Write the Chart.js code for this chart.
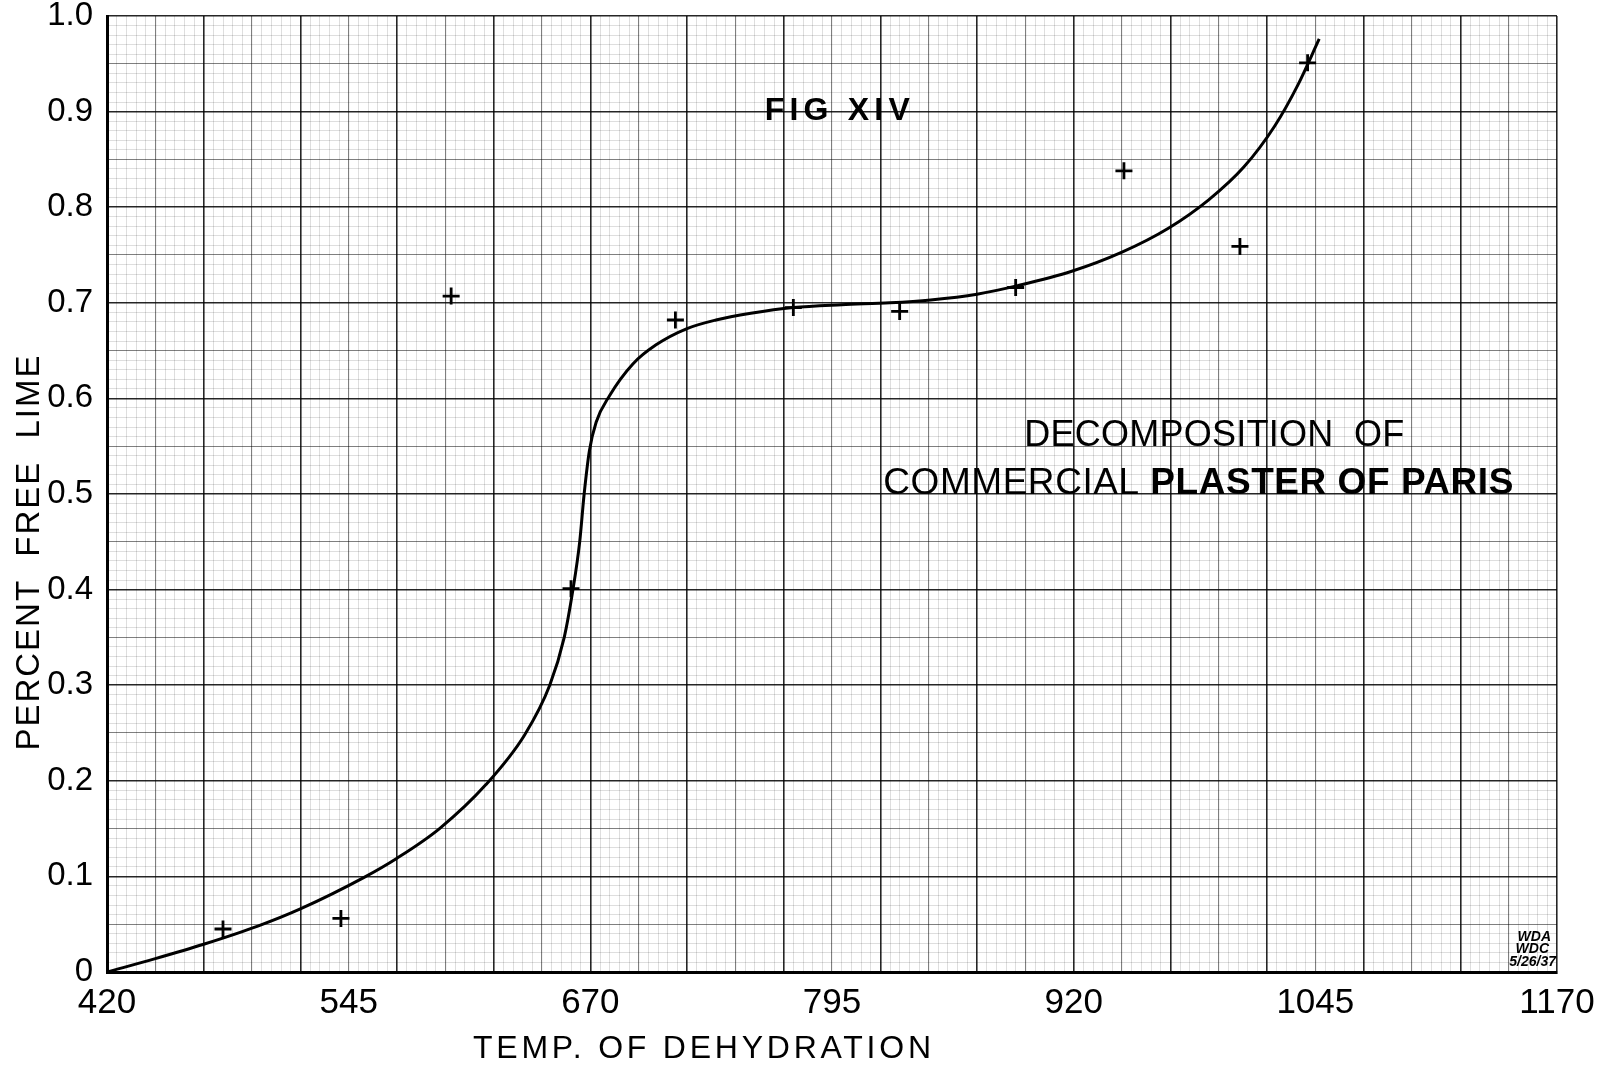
<!DOCTYPE html>
<html>
<head>
<meta charset="utf-8">
<title>Fig XIV - Decomposition of commercial plaster of Paris</title>
<script src="https://cdn.jsdelivr.net/npm/chart.js@4.4.1/dist/chart.umd.min.js"></script>
<style>
  html, body { margin: 0; padding: 0; background: #fff; }
  #chart { display: block; }
</style>
</head>
<body>
<canvas id="chart" width="1598" height="1067"></canvas>
<script>
// plotted observations (the "+" marks)
const tempPoints = [420, 480, 541, 598, 660, 714, 775, 830, 890, 946, 1006, 1041];
const limePoints = [0, 0.045, 0.056, 0.707, 0.401, 0.682, 0.695, 0.691, 0.716, 0.838, 0.759, 0.951];

// the hand drawn curve
const curveTemp = [420, 445, 470, 498, 520, 553, 570, 592, 616, 636, 649, 656.5, 661, 664.5, 666.8, 669.5, 673,
  680, 692, 704, 720, 735, 753, 775, 800, 825, 846, 870, 891, 919, 945, 969, 990, 1008, 1024, 1036, 1047];
const curveLime = [0, 0.014, 0.029, 0.048, 0.066, 0.099, 0.119, 0.150, 0.196, 0.248, 0.300, 0.350, 0.400, 0.450, 0.500, 0.545, 0.575,
  0.603, 0.636, 0.656, 0.673, 0.682, 0.689, 0.695, 0.698, 0.700, 0.703, 0.709, 0.718, 0.733, 0.753, 0.778, 0.808, 0.842, 0.885, 0.928, 0.976];

const xTickLabels = [420, 545, 670, 795, 920, 1045, 1170];
const yTickLabels = [0, 0.1, 0.2, 0.3, 0.4, 0.5, 0.6, 0.7, 0.8, 0.9, 1.0];

const FONT = '"Liberation Sans", Arial, sans-serif';

// grid weight: heavy every 50 deg / 0.1, medium every 25 deg / 0.05, faint otherwise
function gridStyle(k, major, mid) {
  if (k % major === 0) return 'heavy';
  if (k % mid === 0) return 'mid';
  return 'faint';
}
const gridColors = { heavy: 'rgba(0,0,0,0.85)', mid: 'rgba(0,0,0,0.5)', faint: 'rgba(0,0,0,0.13)' };
const gridWidths = { heavy: 1.6, mid: 1.1, faint: 1 };

function xKind(ctx) { return gridStyle(Math.round(ctx.tick.value - 420), 50, 25); }
function yKind(ctx) { return gridStyle(Math.round(ctx.tick.value * 100), 10, 5); }

// texts written on the sheet, stretched to the lettered width
function drawRuns(ctx, runs, cx, cy, width, angle) {
  ctx.save();
  let plain = 0, chars = 0;
  runs.forEach(r => {
    ctx.font = r.font;
    ctx.letterSpacing = '0px';
    plain += ctx.measureText(r.text).width;
    chars += r.text.length;
  });
  const gap = Math.max(0, (width - plain) / (chars - 1));
  ctx.translate(cx, cy);
  if (angle) ctx.rotate(angle);
  ctx.textAlign = 'left';
  ctx.textBaseline = 'middle';
  ctx.fillStyle = '#000';
  let x = -width / 2;
  runs.forEach(r => {
    ctx.font = r.font;
    ctx.letterSpacing = gap + 'px';
    ctx.fillText(r.text, x, 0);
    x += ctx.measureText(r.text).width;
  });
  ctx.restore();
}

const notes = [
  { runs: [{ text: 'FIG XIV', font: 'bold 32px ' + FONT }], x: 797.7, y: 0.9, width: 145 },
  { runs: [{ text: 'DECOMPOSITION  OF', font: '36px ' + FONT }], x: 992.7, y: 0.5605, width: 380 },
  { runs: [{ text: 'COMMERCIAL ', font: '37px ' + FONT }, { text: 'PLASTER OF PARIS', font: 'bold 37px ' + FONT }],
    x: 984.5, y: 0.511, width: 630 }
];

const sheetText = {
  id: 'sheetText',
  beforeDraw(chart) {
    const ctx = chart.ctx;
    ctx.save();
    ctx.fillStyle = '#fff';
    ctx.fillRect(0, 0, chart.width, chart.height);
    ctx.restore();
  },
  afterDraw(chart) {
    const ctx = chart.ctx;
    const xs = chart.scales.x, ys = chart.scales.y;
    const area = chart.chartArea;
    notes.forEach(n => drawRuns(ctx, n.runs, xs.getPixelForValue(n.x), ys.getPixelForValue(n.y), n.width));

    // axis titles
    drawRuns(ctx, [{ text: 'TEMP. OF DEHYDRATION', font: '32px ' + FONT }], area.left + 595, area.bottom + 77, 458);
    drawRuns(ctx, [{ text: 'PERCENT  FREE  LIME', font: '33px ' + FONT }], 30, area.top + 537, 395, -Math.PI / 2);

    // draftsman's initials
    ctx.save();
    ctx.fillStyle = '#000';
    ctx.textAlign = 'right';
    ctx.textBaseline = 'middle';
    ctx.font = 'italic bold 14px ' + FONT;
    ctx.fillText('WDA', area.right - 6, area.bottom - 35);
    ctx.fillText('WDC', area.right - 8, area.bottom - 23);
    ctx.fillText('5/26/37', area.right - 1, area.bottom - 10);
    ctx.restore();
  }
};

new Chart(document.getElementById('chart'), {
  type: 'scatter',
  data: {
    datasets: [
      {
        label: 'Observed',
        data: tempPoints.map((t, i) => ({ x: t, y: limePoints[i] })),
        pointStyle: 'cross',
        pointRadius: 8.5,
        pointBorderWidth: 2.8,
        borderColor: '#000',
        backgroundColor: '#000',
        showLine: false,
        order: 0
      },
      {
        label: 'Curve',
        data: curveTemp.map((t, i) => ({ x: t, y: curveLime[i] })),
        showLine: true,
        borderColor: '#000',
        borderWidth: 3,
        pointRadius: 0,
        cubicInterpolationMode: 'monotone',
        fill: false,
        order: 1
      }
    ]
  },
  options: {
    responsive: false,
    devicePixelRatio: 1,
    animation: false,
    layout: { padding: { top: 16, right: 41, left: 0, bottom: 0 } },
    plugins: { legend: { display: false }, tooltip: { enabled: false } },
    scales: {
      x: {
        type: 'linear',
        min: 420,
        max: 1170,
        afterFit(scale) { scale.height = 95; scale.paddingLeft = 0; scale.paddingRight = 0; },
        ticks: {
          stepSize: 5,
          autoSkip: false,
          maxRotation: 0,
          minRotation: 0,
          padding: 10,
          color: '#000',
          font: { family: FONT, size: 35 },
          callback: v => xTickLabels.includes(Math.round(v)) ? String(Math.round(v)) : ''
        },
        grid: {
          drawTicks: false,
          color: ctx => gridColors[xKind(ctx)],
          lineWidth: ctx => gridWidths[xKind(ctx)]
        },
        border: { color: '#000', width: 3 }
      },
      y: {
        type: 'linear',
        min: 0,
        max: 1,
        afterFit(scale) { scale.width = 107; scale.paddingTop = 0; scale.paddingBottom = 0; },
        ticks: {
          stepSize: 0.01,
          autoSkip: false,
          padding: 14,
          color: '#000',
          font: { family: FONT, size: 33 },
          callback: v => {
            const k = Math.round(v * 100);
            if (k % 10) return '';
            const val = k / 100;
            if (!yTickLabels.includes(val)) return '';
            return val === 0 ? '0' : val.toFixed(1);
          }
        },
        grid: {
          drawTicks: false,
          color: ctx => gridColors[yKind(ctx)],
          lineWidth: ctx => gridWidths[yKind(ctx)]
        },
        border: { color: '#000', width: 3 }
      }
    }
  },
  plugins: [sheetText]
});
</script>
</body>
</html>
